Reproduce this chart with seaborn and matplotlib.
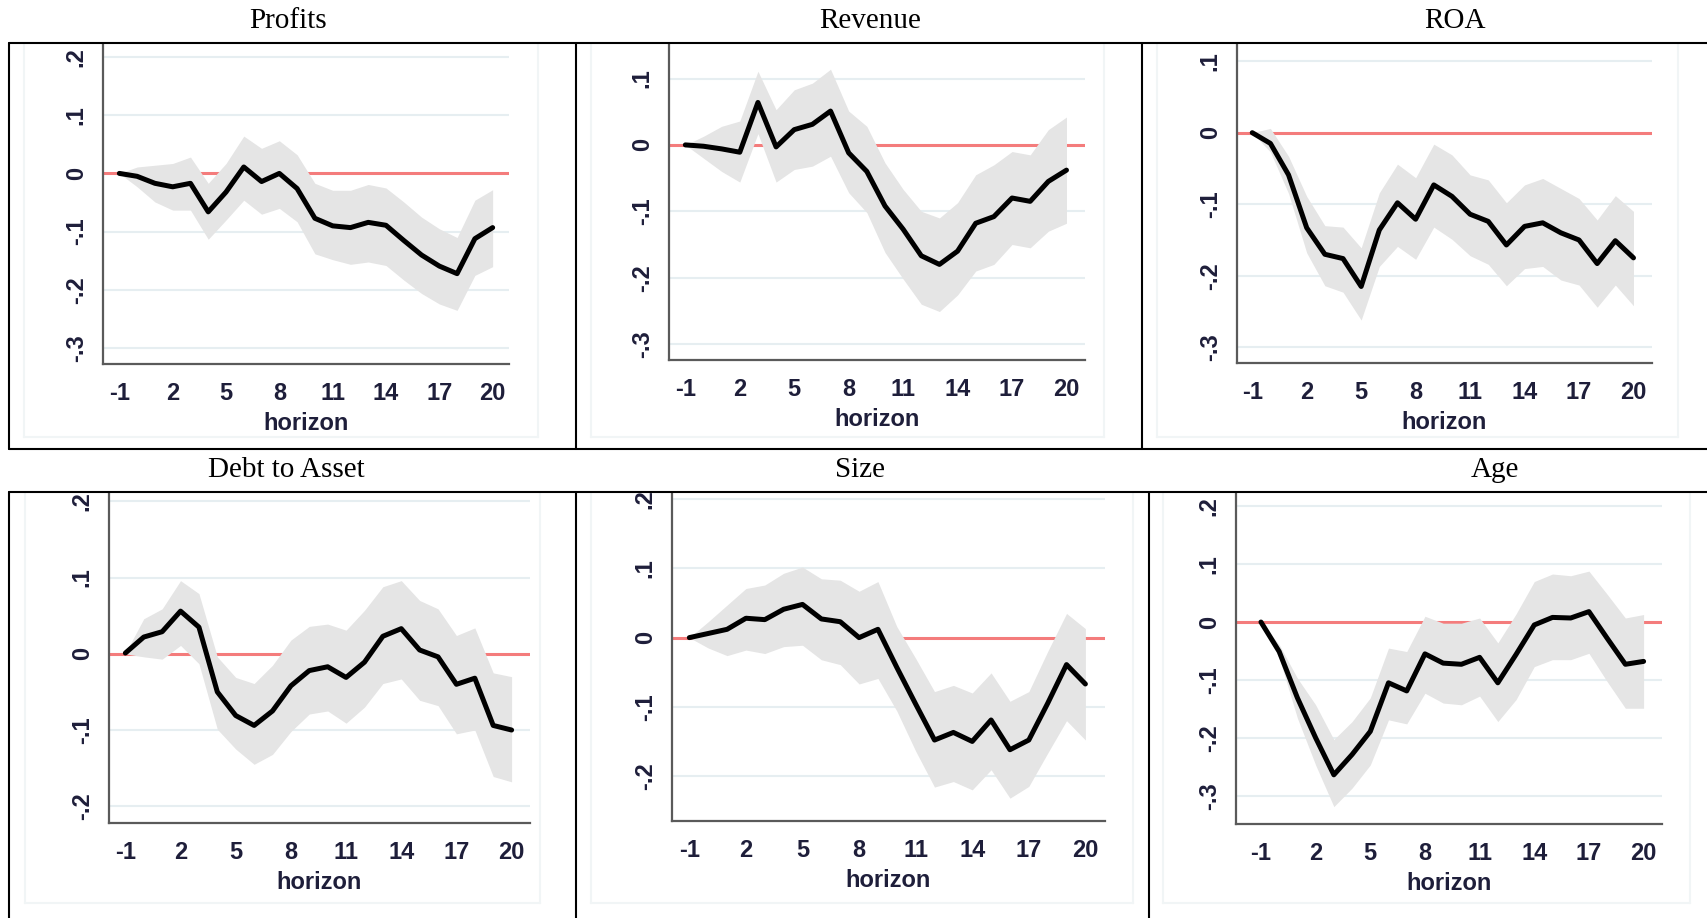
import matplotlib
matplotlib.use("Agg")
import matplotlib.pyplot as plt
from matplotlib.lines import Line2D
import seaborn as sns
import pandas as pd

sns.set_style("white")
plt.rcParams['font.family'] = ['Liberation Sans', 'DejaVu Sans']

# ---------------- data ----------------
horizon = list(range(-1, 21))

profits_coef = [0, -0.005, -0.017, -0.023, -0.017, -0.066, -0.032, 0.011, -0.014, 0.0, -0.026,
                -0.077, -0.090, -0.093, -0.084, -0.089, -0.115, -0.140, -0.159, -0.172, -0.112, -0.093]
profits_hi = [0, 0.011, 0.014, 0.017, 0.028, -0.017, 0.017, 0.064, 0.043, 0.056, 0.032,
              -0.017, -0.029, -0.029, -0.019, -0.025, -0.049, -0.075, -0.095, -0.110, -0.046, -0.028]
profits_lo = [0, -0.023, -0.049, -0.063, -0.063, -0.113, -0.080, -0.046, -0.070, -0.060, -0.083,
              -0.138, -0.148, -0.156, -0.152, -0.158, -0.183, -0.206, -0.224, -0.235, -0.175, -0.160]

revenue_coef = [0, -0.002, -0.006, -0.011, 0.064, -0.003, 0.023, 0.031, 0.051, -0.012, -0.040,
                -0.092, -0.127, -0.167, -0.180, -0.160, -0.118, -0.108, -0.080, -0.085, -0.055, -0.038]
revenue_hi = [0, 0.013, 0.028, 0.036, 0.111, 0.053, 0.083, 0.093, 0.114, 0.051, 0.028,
              -0.027, -0.067, -0.100, -0.110, -0.087, -0.045, -0.030, -0.010, -0.015, 0.023, 0.042]
revenue_lo = [0, -0.020, -0.040, -0.056, 0.017, -0.056, -0.037, -0.032, -0.017, -0.072, -0.102,
              -0.162, -0.202, -0.240, -0.251, -0.226, -0.190, -0.180, -0.150, -0.155, -0.130, -0.118]

roa_coef = [0, -0.015, -0.059, -0.133, -0.170, -0.176, -0.215, -0.136, -0.098, -0.121, -0.073,
            -0.089, -0.114, -0.124, -0.157, -0.131, -0.126, -0.140, -0.150, -0.183, -0.151, -0.175]
roa_hi = [0, 0.006, -0.033, -0.089, -0.130, -0.132, -0.161, -0.084, -0.044, -0.063, -0.016,
          -0.031, -0.059, -0.066, -0.098, -0.073, -0.064, -0.078, -0.092, -0.122, -0.088, -0.110]
roa_lo = [0, -0.027, -0.085, -0.168, -0.214, -0.223, -0.262, -0.187, -0.159, -0.177, -0.132,
          -0.149, -0.172, -0.184, -0.214, -0.190, -0.187, -0.206, -0.213, -0.244, -0.213, -0.242]

debt_coef = [0.001, 0.022, 0.029, 0.056, 0.035, -0.050, -0.081, -0.094, -0.075, -0.042, -0.022,
             -0.017, -0.031, -0.011, 0.023, 0.033, 0.005, -0.004, -0.040, -0.032, -0.094, -0.100]
debt_hi = [0.001, 0.046, 0.059, 0.096, 0.079, -0.004, -0.031, -0.039, -0.015, 0.018, 0.036,
           0.039, 0.031, 0.057, 0.088, 0.096, 0.070, 0.059, 0.024, 0.034, -0.025, -0.030]
debt_lo = [0, -0.004, -0.007, 0.011, -0.013, -0.099, -0.125, -0.145, -0.132, -0.102, -0.079,
           -0.075, -0.091, -0.070, -0.039, -0.033, -0.061, -0.068, -0.105, -0.100, -0.161, -0.168]

size_coef = [0, 0.006, 0.012, 0.028, 0.026, 0.041, 0.048, 0.027, 0.023, 0.0, 0.012,
             -0.043, -0.096, -0.148, -0.137, -0.150, -0.119, -0.162, -0.148, -0.095, -0.039, -0.067]
size_hi = [0, 0.023, 0.047, 0.071, 0.076, 0.093, 0.102, 0.085, 0.083, 0.067, 0.081,
           0.016, -0.030, -0.078, -0.069, -0.080, -0.051, -0.092, -0.078, -0.020, 0.035, 0.013]
size_lo = [0, -0.015, -0.026, -0.018, -0.023, -0.013, -0.011, -0.032, -0.039, -0.067, -0.059,
           -0.106, -0.164, -0.216, -0.208, -0.220, -0.191, -0.232, -0.215, -0.167, -0.120, -0.148]

age_coef = [0, -0.051, -0.131, -0.200, -0.264, -0.229, -0.189, -0.105, -0.119, -0.055, -0.071,
            -0.073, -0.061, -0.105, -0.056, -0.005, 0.008, 0.007, 0.018, -0.028, -0.073, -0.068]
age_hi = [0, -0.039, -0.097, -0.143, -0.203, -0.172, -0.131, -0.045, -0.051, 0.010, -0.002,
          -0.002, 0.007, -0.036, 0.014, 0.070, 0.083, 0.080, 0.088, 0.048, 0.007, 0.013]
age_lo = [0, -0.062, -0.166, -0.247, -0.319, -0.287, -0.247, -0.169, -0.176, -0.123, -0.140,
          -0.143, -0.128, -0.172, -0.134, -0.077, -0.065, -0.065, -0.054, -0.103, -0.149, -0.149]

titles = ["Profits", "Revenue", "ROA", "Debt to Asset", "Size", "Age"]
xticks = [-1, 2, 5, 8, 11, 14, 17, 20]
xticklabels = ["-1", "2", "5", "8", "11", "14", "17", "20"]
yticks_a = [-0.3, -0.2, -0.1, 0.0, 0.1, 0.2]
yticklabels_a = ["-.3", "-.2", "-.1", "0", ".1", ".2"]
yticks_b = [-0.3, -0.2, -0.1, 0.0, 0.1]
yticklabels_b = ["-.3", "-.2", "-.1", "0", ".1"]
yticks_c = [-0.2, -0.1, 0.0, 0.1, 0.2]
yticklabels_c = ["-.2", "-.1", "0", ".1", ".2"]
xlabel = "horizon"

series = [
    (profits_coef, profits_lo, profits_hi, yticks_a, yticklabels_a),
    (revenue_coef, revenue_lo, revenue_hi, yticks_b, yticklabels_b),
    (roa_coef, roa_lo, roa_hi, yticks_b, yticklabels_b),
    (debt_coef, debt_lo, debt_hi, yticks_c, yticklabels_c),
    (size_coef, size_lo, size_hi, yticks_c, yticklabels_c),
    (age_coef, age_lo, age_hi, yticks_a, yticklabels_a),
]

# ---------------- layout (pixel geometry) ----------------
W, H = 1707, 918
fig = plt.figure(figsize=(W / 100, H / 100), dpi=100)
fig.patch.set_facecolor("white")

# axes boxes: left, right, top, bottom in pixels; ylim; xlim
axes_geom = [
    (103, 509, 44, 364, (-0.327, 0.222), (-1.92, 20.92)),
    (669, 1085, 44, 360, (-0.324, 0.152), (-1.90, 21.02)),
    (1237, 1652, 44, 363, (-0.322, 0.124), (-1.84, 21.02)),
    (109, 530, 493, 823, (-0.222, 0.211), (-1.89, 21.00)),
    (672, 1105, 493, 821, (-0.265, 0.209), (-1.92, 21.04)),
    (1236, 1662, 493, 824, (-0.349, 0.223), (-2.37, 21.01)),
]
title_pos = [(288, 21), (870, 21), (1455, 21), (286, 470), (860, 470), (1495, 470)]

axis_col = "#5a5a5a"
text_col = "#1e1e3a"
grid_col = "#e6eef1"
zero_col = "#f47c7c"
band_col = "#e5e5e5"
fs = 17

def fline(x0, y0, x1, y1, color, lw):
    fig.add_artist(Line2D([x0 / W, x1 / W], [1 - y0 / H, 1 - y1 / H],
                          color=color, lw=lw, transform=fig.transFigure))

# faint Stata graph-region outlines
faint = "#f1f5f6"
for (l, r, t, b) in [(24, 538, 44, 437), (591, 1104, 44, 437), (1157, 1678, 44, 437),
                     (25, 540, 493, 903), (591, 1133, 493, 903), (1163, 1690, 493, 903)]:
    fline(l, t, l, b, faint, 1.5)
    fline(r, t, r, b, faint, 1.5)
    fline(l, b, r, b, faint, 1.5)

for i, ((coef, lo, hi, yt, ytl), (l, r, t, b, ylim, xlim)) in enumerate(zip(series, axes_geom)):
    ax = fig.add_axes([l / W, 1 - b / H, (r - l) / W, (b - t) / H])
    ax.set_facecolor("none")
    df = pd.DataFrame({"horizon": horizon, "coef": coef, "lo": lo, "hi": hi})
    for yv in yt:
        if yv != 0:
            ax.axhline(yv, color=grid_col, lw=1.5, zorder=0.5)
    ax.axhline(0, color=zero_col, lw=2.2, zorder=1)
    ax.fill_between(df["horizon"], df["lo"], df["hi"], color=band_col, lw=0, zorder=2)
    sns.lineplot(data=df, x="horizon", y="coef", ax=ax, color="black", lw=3.6, zorder=3)
    ax.set_xlim(*xlim)
    ax.set_ylim(*ylim)
    ax.set_xticks(xticks)
    ax.set_xticklabels(xticklabels, fontsize=fs, fontweight="bold", color=text_col)
    ax.set_yticks(yt)
    ax.set_yticklabels(ytl, rotation=90, va="center", fontsize=fs, fontweight="bold", color=text_col)
    ax.set_xlabel(xlabel, fontsize=fs, fontweight="bold", color=text_col, labelpad=5)
    ax.set_ylabel("")
    for s in ["top", "right"]:
        ax.spines[s].set_visible(False)
    for s in ["left", "bottom"]:
        ax.spines[s].set_color(axis_col)
        ax.spines[s].set_linewidth(1.6)
    ax.tick_params(direction="out", length=6, width=1.5, color=axis_col, pad=7)
    ax.tick_params(axis="y", pad=5)
    ax.grid(False)
    tx, ty = title_pos[i]
    fig.text(tx / W, 1 - ty / H, titles[i], ha="center", va="center",
             fontsize=21, family=["Liberation Serif", "DejaVu Serif"], color="black")

# table borders
bl = 1.5
fline(9, 43, W, 43, "black", bl)
fline(9, 449, W, 449, "black", bl)
for x in (9, 576, 1142):
    fline(x, 43, x, 449, "black", bl)
fline(9, 492, W, 492, "black", bl)
for x in (9, 576, 1149):
    fline(x, 492, x, H, "black", bl)

fig.savefig("out.png", dpi=100, facecolor="white")
